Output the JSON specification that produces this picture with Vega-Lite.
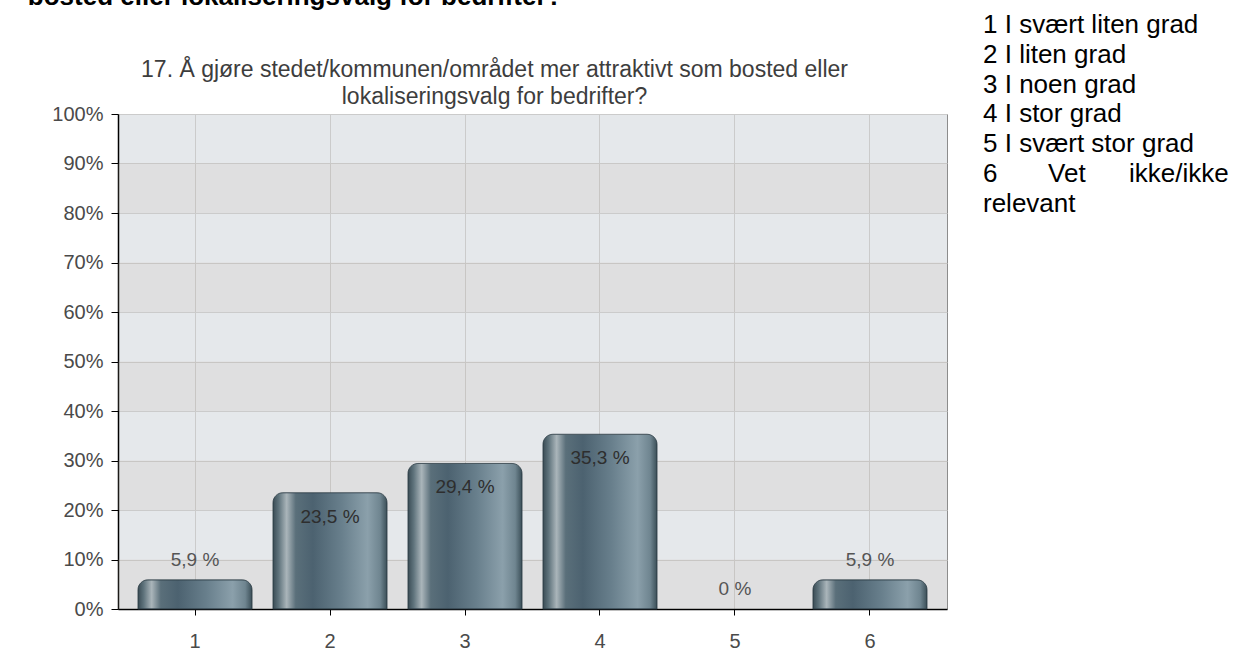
{
  "$schema": "https://vega.github.io/schema/vega-lite/v6.json",
  "background": "white",
  "padding": {"left": 27, "top": -16, "right": 0, "bottom": 0},
  "config": {"font": "Liberation Sans"},
  "title": {
    "text": "bosted eller lokaliseringsvalg for bedrifter?",
    "anchor": "start",
    "font": "Liberation Sans",
    "fontSize": 26,
    "fontWeight": "bold",
    "color": "#000000",
    "offset": 2,
    "dx": -24
  },
  "width": 829,
  "height": 495,
  "view": {"fill": "#e5e8eb", "stroke": "#8c8c8c", "strokeWidth": 1},
  "datasets": {
    "bars": [
      {"kategori": "1", "andel": 5.9, "etikett": "5,9 %"},
      {"kategori": "2", "andel": 23.5, "etikett": "23,5 %"},
      {"kategori": "3", "andel": 29.4, "etikett": "29,4 %"},
      {"kategori": "4", "andel": 35.3, "etikett": "35,3 %"},
      {"kategori": "5", "andel": 0, "etikett": "0 %"},
      {"kategori": "6", "andel": 5.9, "etikett": "5,9 %"}
    ],
    "bands": [
      {"fra": 0, "til": 10},
      {"fra": 20, "til": 30},
      {"fra": 40, "til": 50},
      {"fra": 60, "til": 70},
      {"fra": 80, "til": 90}
    ],
    "forklaring": [
      {"linje": 1, "tekst": "1 I svært liten grad"},
      {"linje": 2, "tekst": "2 I liten grad"},
      {"linje": 3, "tekst": "3 I noen grad"},
      {"linje": 4, "tekst": "4 I stor grad"},
      {"linje": 5, "tekst": "5 I svært stor grad"},
      {"linje": 6, "tekst": "6\u00a0\u00a0\u00a0\u00a0\u00a0\u00a0\u00a0Vet\u00a0\u00a0\u00a0\u00a0\u00a0\u00a0ikke/ikke"},
      {"linje": 7, "tekst": "relevant"}
    ]
  },
  "resolve": {"axis": {"x": "independent"}},
  "layer": [
    {
      "data": {"name": "bands"},
      "mark": {"type": "rect", "fill": "#bdaca2", "opacity": 0.15},
      "encoding": {
        "y": {
          "field": "fra",
          "type": "quantitative",
          "scale": {"domain": [0, 100]},
          "axis": {
            "title": null,
            "values": [0, 10, 20, 30, 40, 50, 60, 70, 80, 90, 100],
            "labelExpr": "datum.value + '%'",
            "labelFont": "Liberation Sans",
            "labelFontSize": 20,
            "labelColor": "#4a4a4a",
            "labelPadding": 8,
            "domainColor": "#000000",
            "domainWidth": 1.5,
            "tickColor": "#000000",
            "tickSize": 7,
            "grid": true,
            "gridColor": "#cbcbcb"
          }
        },
        "y2": {"field": "til"}
      }
    },
    {
      "data": {"name": "bars"},
      "resolve": {"axis": {"x": "independent"}},
      "encoding": {
        "y": {
          "field": "andel",
          "type": "quantitative",
          "scale": {"domain": [0, 100]},
          "axis": {
            "title": null,
            "values": [0, 10, 20, 30, 40, 50, 60, 70, 80, 90, 100],
            "labelExpr": "datum.value + '%'",
            "labelFont": "Liberation Sans",
            "labelFontSize": 20,
            "labelColor": "#4a4a4a",
            "labelPadding": 8,
            "domainColor": "#000000",
            "domainWidth": 1.5,
            "tickColor": "#000000",
            "tickSize": 7,
            "grid": true,
            "gridColor": "#cbcbcb"
          }
        }
      },
      "layer": [
        {
          "transform": [{"filter": "datum.andel > 0"}],
          "mark": {
            "type": "bar",
            "cornerRadiusTopLeft": 10,
            "cornerRadiusTopRight": 10,
            "stroke": "#2f4049",
            "strokeWidth": 1,
            "strokeOpacity": 0.8,
            "fill": {
              "gradient": "linear",
              "x1": 0, "y1": 0, "x2": 1, "y2": 0,
              "stops": [
                {"offset": 0, "color": "#3a4c55"},
                {"offset": 0.05, "color": "#5f737c"},
                {"offset": 0.12, "color": "#aab5ba"},
                {"offset": 0.2, "color": "#5a6f7a"},
                {"offset": 0.35, "color": "#4c6270"},
                {"offset": 0.6, "color": "#687f8c"},
                {"offset": 0.83, "color": "#8ba0ab"},
                {"offset": 0.94, "color": "#6f8590"},
                {"offset": 1, "color": "#3b4f58"}
              ]
            }
          },
          "encoding": {
            "x": {
              "field": "kategori",
              "type": "nominal",
              "scale": {"domain": ["1", "2", "3", "4", "5", "6"], "paddingInner": 0.155, "paddingOuter": 0.148},
              "axis": {
                "orient": "bottom",
                "title": null,
                "labelAngle": 0,
                "labelFont": "Liberation Sans",
                "labelFontSize": 20,
                "labelColor": "#4a4a4a",
                "labelPadding": 16,
                "domainColor": "#000000",
                "domainWidth": 1.5,
                "tickColor": "#000000",
                "tickSize": 6,
                "grid": true,
                "gridColor": "#cbcbcb",
                "bandPosition": 0.5
              }
            }
          }
        },
        {
          "transform": [{"filter": "datum.andel < 10"}],
          "mark": {"type": "text", "baseline": "alphabetic", "dy": -14, "font": "Liberation Sans", "fontSize": 19, "color": "#555555"},
          "encoding": {
            "x": {"field": "kategori", "type": "nominal", "axis": null},
            "text": {"field": "etikett"}
          }
        },
        {
          "transform": [{"filter": "datum.andel >= 10"}],
          "mark": {"type": "text", "baseline": "alphabetic", "dy": 30, "font": "Liberation Sans", "fontSize": 19, "color": "#2e2e2e"},
          "encoding": {
            "x": {
              "field": "kategori",
              "type": "nominal",
              "axis": {
                "orient": "top",
                "labels": false,
                "ticks": false,
                "domain": false,
                "grid": false,
                "title": ["17. Å gjøre stedet/kommunen/området mer attraktivt som bosted eller", "lokaliseringsvalg for bedrifter?"],
                "titleFont": "Liberation Sans",
                "titleFontSize": 23,
                "titleFontWeight": "normal",
                "titleColor": "#3d3d3d",
                "titleLineHeight": 27,
                "titleAlign": "center",
                "titleBaseline": "top",
                "titleAngle": 0,
                "titleX": 376,
                "titleY": -56
              }
            },
            "text": {"field": "etikett"}
          }
        }
      ]
    },
    {
      "data": {"name": "forklaring"},
      "mark": {"type": "point", "opacity": 0},
      "encoding": {
        "color": {
          "field": "tekst",
          "type": "nominal",
          "sort": {"field": "linje", "op": "min"},
          "scale": {"range": ["#000000"]},
          "legend": {
            "orient": "none",
            "legendX": 839,
            "legendY": -102,
            "title": null,
            "padding": 0,
            "symbolSize": 0,
            "symbolOpacity": 0,
            "symbolStrokeWidth": 0,
            "labelOffset": 0,
            "labelFont": "Liberation Sans",
            "labelFontSize": 26,
            "labelColor": "#000000",
            "labelLimit": 400,
            "rowPadding": 3.8,
            "direction": "vertical"
          }
        }
      }
    }
  ]
}
